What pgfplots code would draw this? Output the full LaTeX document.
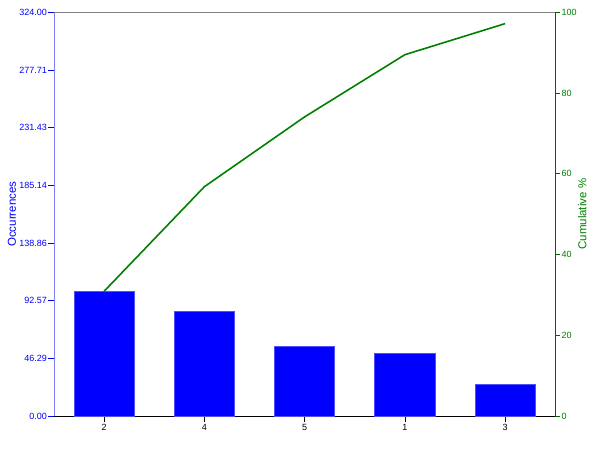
\documentclass[border=0pt]{standalone}
\usepackage{pgfplots}
\pgfplotsset{compat=1.18}
\usepackage{fontspec}
\setmainfont{Liberation Sans}
\definecolor{barblue}{RGB}{0,0,255}
\definecolor{baredge}{RGB}{80,80,255}
\definecolor{axblue}{RGB}{128,128,255}
\definecolor{linegreen}{RGB}{0,128,0}
\definecolor{axgreen}{RGB}{0,100,0}
\begin{document}
\begin{tikzpicture}[x=1pt,y=1pt]
\path[use as bounding box] (-54,-34) rectangle (546,416);
\begin{axis}[
  at={(0,0)}, anchor=south west,
  scale only axis, width=501.3pt, height=403.7pt,
  xmin=-0.5, xmax=4.5, ymin=0, ymax=324,
  axis x line*=bottom, axis y line*=left,
  x axis line style={black,-, line width=0.8pt},
  y axis line style={axblue,-, line width=0.8pt},
  xtick={0,...,4}, xticklabels={2,4,5,1,3},
  ytick={0,46.2857,92.5714,138.8571,185.1429,231.4286,277.7143,324},
  yticklabels={0.00,46.29,92.57,138.86,185.14,231.43,277.71,324.00},
  tick align=outside, major tick length=6pt,
  xtick style={black, line width=0.8pt},
  ytick style={blue, line width=0.8pt},
  ticklabel style={font=\fontsize{9}{10}\selectfont},
  yticklabel style={blue, inner xsep=1pt},
  xticklabel style={inner ysep=2pt},
  ylabel={Occurrences},
  ylabel style={blue, font=\fontsize{11.5}{12}\selectfont, at={(axis description cs:-0.0838,0.5)}, anchor=center, rotate=0},
]
\addplot[ybar, bar width=0.6, fill=barblue, draw=baredge, line width=0.8pt] coordinates {(0,100)(1,84)(2,56)(3,50)(4,25)};
\end{axis}
\begin{axis}[
  at={(0,0)}, anchor=south west,
  scale only axis, width=501.3pt, height=403.7pt,
  xmin=-0.5, xmax=4.5, ymin=0, ymax=100,
  axis x line*=top, axis y line*=right,
  x axis line style={gray,-, line width=0.8pt},
  y axis line style={axgreen,-, line width=0.8pt},
  xtick=\empty,
  ytick={0,20,40,60,80,100},
  /pgf/number format/assume math mode=true,
  tick align=outside, major tick length=5pt,
  ytick style={axgreen, line width=0.8pt},
  ticklabel style={font=\fontsize{9}{10}\selectfont},
  yticklabel style={linegreen, inner xsep=1pt},
  ylabel={Cumulative \%},
  ylabel style={linegreen, font=\fontsize{11.5}{12}\selectfont, at={(axis description cs:1.0539,0.5)}, anchor=center, rotate=0},
]
\addplot[linegreen, line width=1.6pt] coordinates {(0,30.9)(1,56.8)(2,74.1)(3,89.5)(4,97.2)};
\end{axis}
\end{tikzpicture}
\end{document}
